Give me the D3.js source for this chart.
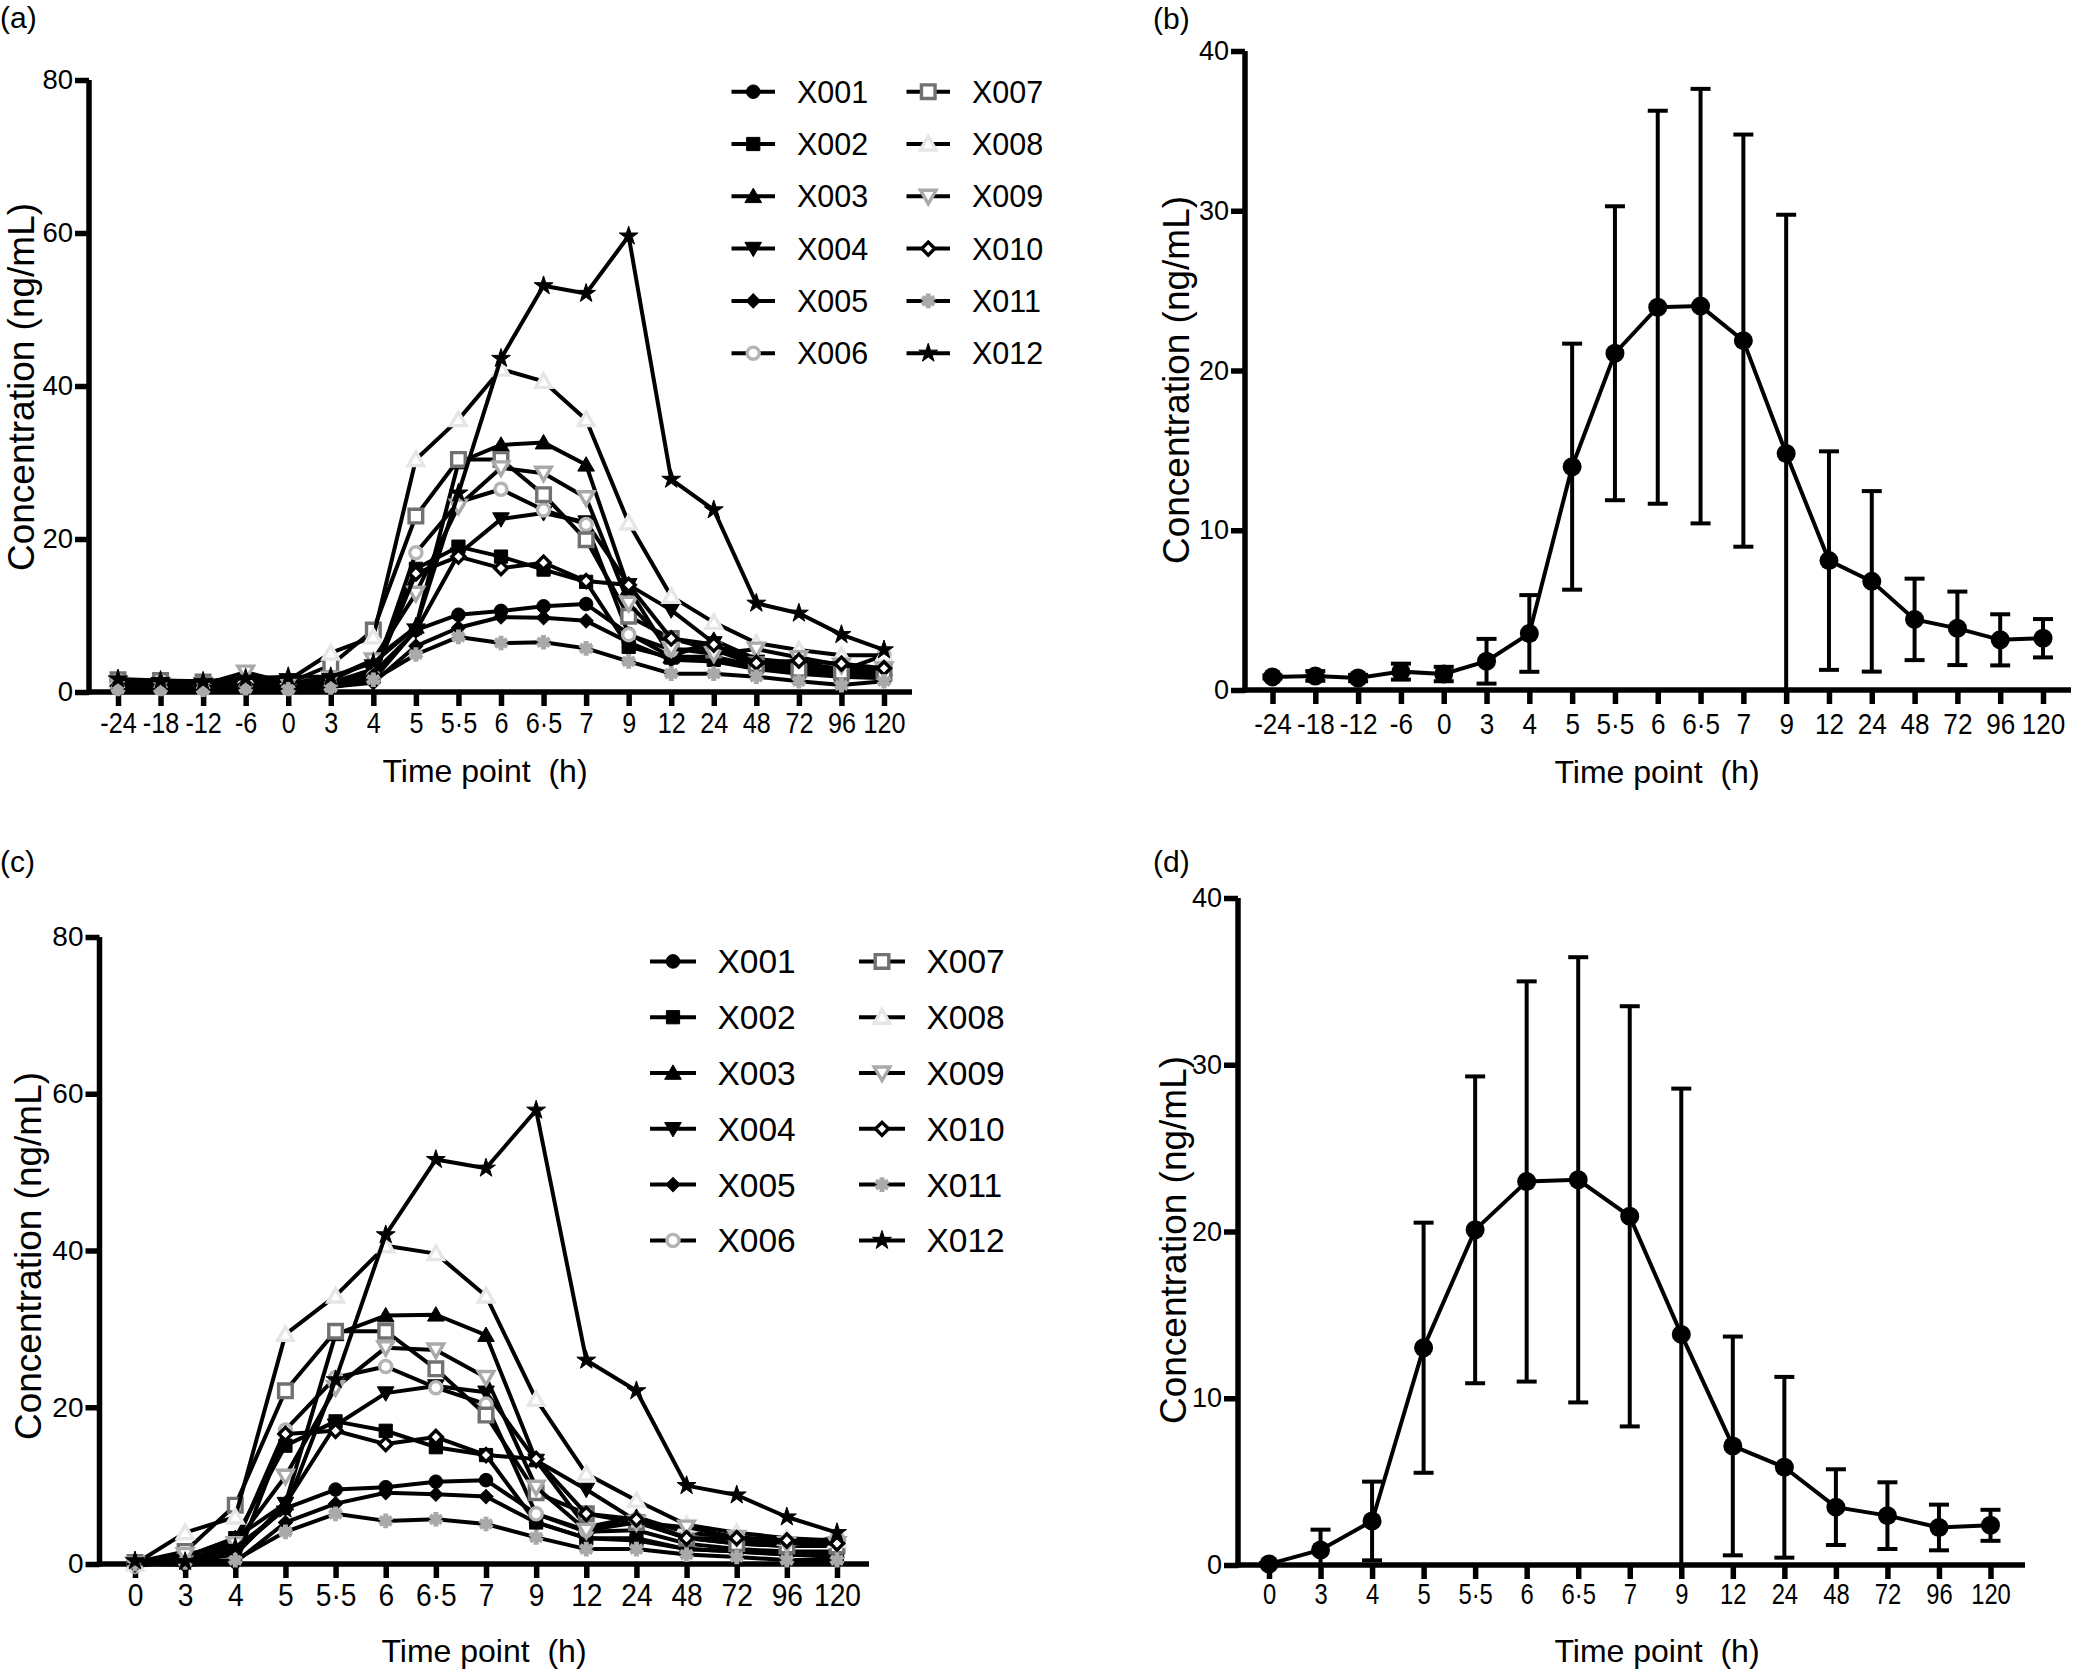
<!DOCTYPE html>
<html>
<head>
<meta charset="utf-8">
<script src="https://cdn.jsdelivr.net/npm/d3@7"></script>
<style>
body { margin: 0; background: #fff; }
text { font-family: "Liberation Sans", Arial, sans-serif; fill: #000; white-space: pre; }
</style>
</head>
<body>
<div id="figure"></div>
<script>
"use strict"

// ---- data ----
const timesA = ["-24", "-18", "-12", "-6", "0", "3", "4", "5", "5·5", "6", "6·5", "7", "9", "12", "24", "48", "72", "96", "120"]
const timesC = ["0", "3", "4", "5", "5·5", "6", "6·5", "7", "9", "12", "24", "48", "72", "96", "120"]
const subjects = ["X001", "X002", "X003", "X004", "X005", "X006", "X007", "X008", "X009", "X010", "X011", "X012"]

// panel (a): concentration per subject, all time points (ng/mL)
const concA = [
    [0.8, 0.7, 0.6, 0.9, 0.8, 0.9, 1.6, 8.1, 10.1, 10.6, 11.2, 11.5, 7.6, 4.6, 4.6, 3.4, 2.8, 2.3, 2.4],
    [0.9, 0.8, 0.8, 1.0, 0.9, 1.2, 3.0, 16.1, 19.0, 17.7, 16.0, 14.4, 5.9, 4.5, 4.2, 3.2, 2.5, 2.2, 2.0],
    [1.0, 0.9, 0.8, 1.1, 1.0, 1.5, 4.2, 8.5, 30.0, 32.3, 32.6, 29.7, 13.5, 4.6, 6.8, 4.3, 3.8, 3.0, 3.0],
    [0.8, 0.7, 0.7, 0.9, 0.8, 1.0, 2.5, 8.0, 18.0, 22.6, 23.4, 22.2, 14.0, 10.7, 6.4, 4.0, 3.5, 3.0, 2.8],
    [0.6, 0.5, 0.5, 0.7, 0.6, 0.7, 1.2, 6.0, 8.4, 9.8, 9.7, 9.3, 6.5, 4.2, 4.0, 3.0, 2.4, 2.0, 1.8],
    [0.6, 0.5, 0.5, 0.7, 0.5, 0.8, 2.0, 18.2, 24.8, 26.5, 23.8, 21.9, 7.5, 5.5, 5.7, 3.5, 3.1, 2.8, 4.8],
    [1.6, 1.5, 1.3, 1.4, 1.2, 3.5, 8.1, 23.0, 30.4, 30.4, 25.8, 19.9, 9.9, 7.0, 5.5, 3.6, 3.0, 2.6, 2.5],
    [1.5, 1.3, 1.2, 1.6, 1.5, 5.1, 7.2, 30.4, 35.6, 42.2, 40.6, 35.6, 22.1, 12.5, 9.1, 6.4, 5.5, 4.8, 4.8],
    [1.2, 1.0, 1.0, 2.6, 1.2, 1.8, 4.2, 12.9, 24.3, 29.3, 28.6, 25.4, 11.6, 5.7, 5.0, 5.6, 4.5, 3.5, 3.0],
    [0.8, 0.7, 0.6, 0.9, 0.7, 0.9, 2.0, 15.5, 17.7, 16.2, 16.9, 14.5, 14.0, 7.0, 6.2, 3.8, 4.1, 3.7, 3.1],
    [0.4, 0.4, 0.3, 0.5, 0.4, 0.6, 1.6, 4.9, 7.2, 6.4, 6.5, 5.7, 4.0, 2.4, 2.4, 2.0, 1.4, 0.9, 1.4],
    [1.7, 1.5, 1.4, 1.8, 2.0, 2.0, 3.8, 8.5, 26.0, 43.6, 53.1, 52.1, 59.6, 27.8, 23.8, 11.6, 10.3, 7.5, 5.5]
]

// panel (c): concentration per subject from 0 h
const concC = [
    [0, 0.5, 1.6, 7.1, 9.5, 9.8, 10.5, 10.7, 6.4, 4.1, 4.3, 2.6, 1.9, 1.6, 1.6],
    [0, 0.9, 3.3, 15.1, 18.2, 17.0, 14.9, 13.9, 5.3, 3.3, 3.0, 1.9, 1.6, 1.2, 1.2],
    [0, 0.9, 3.3, 7.7, 29.3, 31.7, 31.8, 29.2, 13.2, 4.7, 6.0, 4.0, 3.4, 3.0, 3.0],
    [0, 0.3, 1.2, 7.7, 17.7, 21.8, 22.7, 21.9, 13.2, 9.5, 5.5, 3.3, 3.0, 2.6, 2.3],
    [0, 0.2, 0.2, 5.3, 7.7, 9.1, 8.9, 8.6, 5.3, 3.3, 3.3, 1.9, 1.6, 1.2, 0.9],
    [-0.3, 0.5, 2.5, 17.1, 23.8, 25.2, 22.5, 20.4, 6.4, 4.3, 5.7, 3.3, 2.6, 2.3, 3.4],
    [0.2, 1.6, 7.5, 22.1, 29.7, 29.7, 24.9, 19.0, 9.1, 6.4, 5.3, 3.3, 2.6, 2.3, 2.3],
    [0, 4.0, 6.0, 29.3, 34.2, 40.6, 39.6, 34.2, 21.0, 11.5, 8.1, 5.0, 4.0, 3.3, 3.0],
    [0, 1.2, 2.6, 11.2, 22.5, 27.6, 27.3, 23.8, 9.8, 4.3, 5.3, 4.7, 3.4, 2.6, 2.6],
    [0, -0.1, 0.2, 16.6, 17.0, 15.3, 16.2, 13.9, 13.4, 6.4, 5.7, 3.3, 3.3, 3.0, 2.6],
    [0, 0.2, 0.5, 4.1, 6.4, 5.5, 5.7, 5.1, 3.4, 1.9, 1.9, 1.2, 0.9, 0.5, 0.5],
    [0.4, 0.3, 2.1, 7.0, 23.5, 42.0, 51.6, 50.5, 57.9, 26.0, 22.1, 10.0, 8.8, 6.0, 4.0]
]

// panel (b): mean and SD over subjects
const meanB = [0.82, 0.88, 0.75, 1.15, 1.0, 1.8, 3.54, 13.98, 21.08, 23.96, 24.03, 21.87, 14.8, 8.1, 6.8, 4.42, 3.86, 3.14, 3.24]
const sdB = [0.1, 0.3, 0.2, 0.5, 0.45, 1.4, 2.4, 7.7, 9.2, 12.3, 13.6, 12.9, 14.95, 6.84, 5.65, 2.55, 2.3, 1.6, 1.2]

// panel (d): mean and SD over subjects from 0 h
const meanD = [0.06, 0.9, 2.64, 13.03, 20.1, 23.0, 23.1, 20.91, 13.83, 7.14, 5.86, 3.47, 2.96, 2.25, 2.38]
const sdD = [0.05, 1.22, 2.36, 7.5, 9.2, 12.0, 13.35, 12.6, 14.74, 6.56, 5.42, 2.27, 2.0, 1.37, 0.93]

// ---- styles ----
const markerStyles = [
    { shape: "circle", fill: "#000", stroke: "#000" },
    { shape: "square", fill: "#000", stroke: "#000" },
    { shape: "triUp", fill: "#000", stroke: "#000" },
    { shape: "triDown", fill: "#000", stroke: "#000" },
    { shape: "diamond", fill: "#000", stroke: "#000" },
    { shape: "circle", fill: "#fff", stroke: "#b4b4b4", open: true },
    { shape: "square", fill: "#fff", stroke: "#717171", open: true },
    { shape: "triUp", fill: "#fff", stroke: "#e6e6e6", open: true },
    { shape: "triDown", fill: "#fff", stroke: "#a9a9a9", open: true },
    { shape: "diamond", fill: "#fff", stroke: "#000", open: true },
    { shape: "asterisk", fill: "none", stroke: "#a9a9a9" },
    { shape: "star", fill: "#000", stroke: "#000" }
]

const W = 2073, H = 1671

const svg = d3.select("#figure").append("svg")
    .attr("width", W)
    .attr("height", H)
    .attr("viewBox", `0 0 ${W} ${H}`)

function symbolPath(shape, open) {
    const gen = d3.symbol()
    if (shape === "circle") { return gen.type(d3.symbolCircle).size(open ? 115 : 145)() }
    if (shape === "square") { return gen.type(d3.symbolSquare).size(open ? 185 : 175)() }
    if (shape === "triUp" || shape === "triDown") { return gen.type(d3.symbolTriangle).size(open ? 105 : 120)() }
    if (shape === "diamond") { return gen.type(d3.symbolSquare).size(open ? 85 : 100)() }
    if (shape === "asterisk") { return gen.type(d3.symbolAsterisk).size(150)() }
    return gen.type(d3.symbolStar).size(110)()
}

function drawMarker(g, style, cx, cy) {
    let rot = 0
    if (style.shape === "triDown") { rot = 180 }
    if (style.shape === "diamond") { rot = 45 }
    const dy = style.shape === "triUp" ? 1.5 : style.shape === "triDown" ? -1.5 : 0
    g.append("path")
        .attr("d", symbolPath(style.shape, style.open))
        .attr("transform", `translate(${cx},${cy + dy}) rotate(${rot})`)
        .attr("fill", style.fill)
        .attr("stroke", style.stroke)
        .attr("stroke-width", style.open ? 3.4 : style.shape === "asterisk" ? 5 : 1)
        .attr("stroke-linejoin", "miter")
}

/**
 * Draw axes of one panel and return its scales.
 */
function drawAxes(cfg, times) {
    const x = d3.scalePoint().domain(times).range([cfg.x0, cfg.x1])
    const y = d3.scaleLinear().domain([0, cfg.yMax]).range([cfg.bottom, cfg.top])
    const g = svg.append("g")

    const xAxis = g.append("g")
        .attr("transform", `translate(0,${cfg.bottom})`)
        .call(d3.axisBottom(x).tickSize(14).tickPadding(cfg.xPad))
    xAxis.select(".domain").attr("d", `M${cfg.left - 2.5},0H${cfg.right}`)
    xAxis.selectAll("text")
        .style("font-size", cfg.xFont + "px")
        .attr("transform", `scale(${cfg.squeeze},1)`)

    const yAxis = g.append("g")
        .attr("transform", `translate(${cfg.left},0)`)
        .call(d3.axisLeft(y).tickValues(cfg.yTicks).tickSize(14).tickPadding(2))
    yAxis.select(".domain").attr("d", `M0,${cfg.bottom + 2.5}V${cfg.top}`)
    yAxis.selectAll("text").style("font-size", cfg.yFont + "px")

    g.selectAll(".domain").attr("stroke", "#000").attr("stroke-width", 5.5)
    g.selectAll(".tick line").attr("stroke", "#000").attr("stroke-width", 5.5)

    g.append("text")
        .attr("transform", `translate(${cfg.yTitleX},${cfg.yTitleY}) rotate(-90)`)
        .attr("text-anchor", "middle")
        .style("font-size", "37px")
        .text("Concentration (ng/mL)")
    g.append("text")
        .attr("x", cfg.xTitleX)
        .attr("y", cfg.xTitleY)
        .attr("text-anchor", "middle")
        .style("font-size", "32px")
        .text("Time point  (h)")
    g.append("text")
        .attr("x", cfg.labelX)
        .attr("y", cfg.labelY)
        .style("font-size", "30px")
        .text(cfg.label)
    return { x, y, g }
}

function drawSubjects(cfg, times, conc) {
    const { x, y, g } = drawAxes(cfg, times)
    const line = d3.line().x((d, i) => x(times[i])).y(d => y(d))
    conc.forEach((values, s) => {
        const sg = g.append("g").attr("class", "subject-" + subjects[s])
        sg.append("path")
            .attr("d", line(values))
            .attr("fill", "none")
            .attr("stroke", "#000")
            .attr("stroke-width", 4)
            .attr("stroke-linejoin", "round")
        values.forEach((v, i) => drawMarker(sg, markerStyles[s], x(times[i]), y(v)))
    })

    // legend, two columns of six
    const lg = g.append("g")
    subjects.forEach((name, s) => {
        const col = Math.floor(s / 6), row = s % 6
        const lx = cfg.legend.cols[col], ly = cfg.legend.y0 + row * cfg.legend.dy
        lg.append("line")
            .attr("x1", lx).attr("x2", lx + cfg.legend.len)
            .attr("y1", ly).attr("y2", ly)
            .attr("stroke", "#000").attr("stroke-width", 4)
        drawMarker(lg, markerStyles[s], lx + cfg.legend.len / 2, ly)
        lg.append("text")
            .attr("x", lx + cfg.legend.textOff)
            .attr("y", ly)
            .attr("dy", "0.36em")
            .style("font-size", cfg.legend.font + "px")
            .text(name)
    })
}

function drawMean(cfg, times, mean, sd) {
    const { x, y, g } = drawAxes(cfg, times)
    const capW = 20
    const bars = g.append("g")
    mean.forEach((m, i) => {
        const cx = x(times[i])
        const lo = Math.max(0, m - sd[i]), hi = m + sd[i]
        bars.append("line")
            .attr("x1", cx).attr("x2", cx)
            .attr("y1", y(lo)).attr("y2", y(hi))
            .attr("stroke", "#000").attr("stroke-width", 4)
        bars.append("line")
            .attr("x1", cx - capW / 2).attr("x2", cx + capW / 2)
            .attr("y1", y(hi)).attr("y2", y(hi))
            .attr("stroke", "#000").attr("stroke-width", 4)
        if (m - sd[i] > 0) {
            bars.append("line")
                .attr("x1", cx - capW / 2).attr("x2", cx + capW / 2)
                .attr("y1", y(lo)).attr("y2", y(lo))
                .attr("stroke", "#000").attr("stroke-width", 4)
        }
    })
    const line = d3.line().x((d, i) => x(times[i])).y(d => y(d))
    g.append("path")
        .attr("d", line(mean))
        .attr("fill", "none")
        .attr("stroke", "#000")
        .attr("stroke-width", 4)
    g.selectAll(".mean-pt")
        .data(mean)
        .enter()
        .append("circle")
        .attr("class", "mean-pt")
        .attr("cx", (d, i) => x(times[i]))
        .attr("cy", d => y(d))
        .attr("r", 9.5)
        .attr("fill", "#000")
}

drawSubjects({
    label: "(a)", labelX: 0, labelY: 28,
    left: 89, right: 912, x0: 118, x1: 884, top: 80, bottom: 692,
    yMax: 80, yTicks: [0, 20, 40, 60, 80], xFont: 30, yFont: 27.5, squeeze: 0.84, xPad: 6,
    yTitleX: 34, yTitleY: 387, xTitleX: 485, xTitleY: 782,
    legend: { cols: [731.5, 906.5], y0: 91.7, dy: 52.3, len: 43.5, textOff: 65.5, font: 30.5 }
}, timesA, concA)

drawMean({
    label: "(b)", labelX: 1153, labelY: 29,
    left: 1245, right: 2071, x0: 1272.5, x1: 2043, top: 51, bottom: 690,
    yMax: 40, yTicks: [0, 10, 20, 30, 40], xFont: 29, yFont: 27, squeeze: 0.9, xPad: 9,
    yTitleX: 1189, yTitleY: 380, xTitleX: 1657, xTitleY: 783
}, timesA, meanB, sdB)

drawSubjects({
    label: "(c)", labelX: 0, labelY: 872,
    left: 99.5, right: 869, x0: 135, x1: 837, top: 937, bottom: 1564,
    yMax: 80, yTicks: [0, 20, 40, 60, 80], xFont: 32, yFont: 28, squeeze: 0.88, xPad: 5,
    yTitleX: 41, yTitleY: 1256, xTitleX: 484, xTitleY: 1662,
    legend: { cols: [650, 859], y0: 961.4, dy: 55.8, len: 46, textOff: 67.5, font: 33.5 }
}, timesC, concC)

drawMean({
    label: "(d)", labelX: 1153, labelY: 872,
    left: 1238, right: 2025, x0: 1269, x1: 1990.5, top: 898, bottom: 1565,
    yMax: 40, yTicks: [0, 10, 20, 30, 40], xFont: 29, yFont: 27, squeeze: 0.82, xPad: 4,
    yTitleX: 1186, yTitleY: 1240, xTitleX: 1657, xTitleY: 1662
}, timesC, meanD, sdD)
</script>
</body>
</html>
